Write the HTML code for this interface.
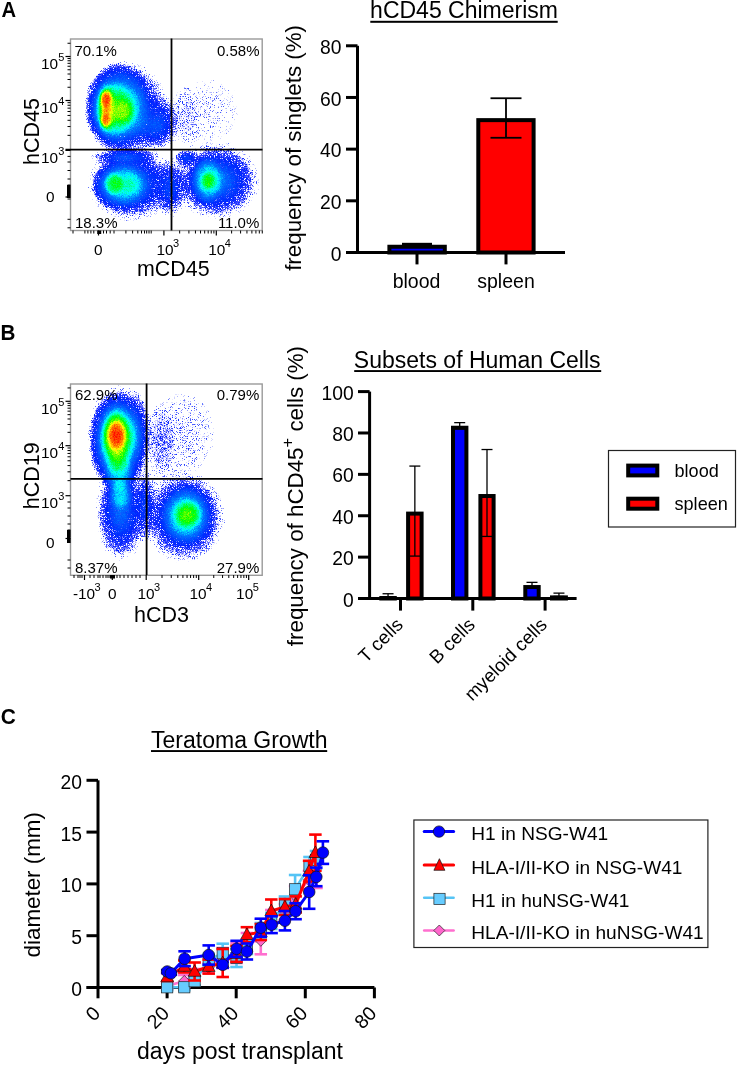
<!DOCTYPE html><html><head><meta charset="utf-8"><style>html,body{margin:0;padding:0;background:#fff;}svg{display:block;font-family:"Liberation Sans",sans-serif;will-change:transform;}</style></head><body><svg width="738" height="1065" viewBox="0 0 738 1065" font-family="Liberation Sans, sans-serif" fill="#000"><defs>
<radialGradient id="gw"><stop offset="0" stop-color="#fff" stop-opacity="1"/><stop offset="0.2" stop-color="#fff" stop-opacity="0.835"/><stop offset="0.4" stop-color="#fff" stop-opacity="0.487"/><stop offset="0.6" stop-color="#fff" stop-opacity="0.198"/><stop offset="0.8" stop-color="#fff" stop-opacity="0.056"/><stop offset="1" stop-color="#fff" stop-opacity="0"/></radialGradient>
<radialGradient id="gf"><stop offset="0" stop-color="#fff" stop-opacity="1"/><stop offset="0.3" stop-color="#fff" stop-opacity="0.96"/><stop offset="0.5" stop-color="#fff" stop-opacity="0.8"/><stop offset="0.65" stop-color="#fff" stop-opacity="0.55"/><stop offset="0.8" stop-color="#fff" stop-opacity="0.25"/><stop offset="0.9" stop-color="#fff" stop-opacity="0.08"/><stop offset="1" stop-color="#fff" stop-opacity="0"/></radialGradient>
<filter id="dens" x="0" y="0" width="1" height="1" color-interpolation-filters="sRGB">
<feGaussianBlur in="SourceGraphic" stdDeviation="1.2" result="sg"/>
<feTurbulence type="fractalNoise" baseFrequency="2.5" numOctaves="1" seed="7" result="n"/>
<feColorMatrix in="n" type="matrix" values="1 0 0 0 0 1 0 0 0 0 1 0 0 0 0 0 0 0 0 1" result="ng"/>
<feComposite in="sg" in2="ng" operator="arithmetic" k1="0" k2="1" k3="0.25" k4="-0.125" result="c1"/>
<feComponentTransfer in="c1" result="col"><feFuncR type="table" tableValues="0 0 0 0 0 0 0 0 0 0 0 0 0 0 0 0 0 0 0 0 0 0 0 0 0 0 0 0 0 0 0 0 0 0 0 0 0 0 0 0 0 0 0 0 0 0 0 0 0 0 0 0 0 0 0 0 0 0 0 0 0 0.0625 0.125 0.188 0.25 0.313 0.375 0.438 0.5 0.562 0.625 0.687 0.75 0.812 0.875 0.938 1 1 1 1 1 1 1 1 1 1 1 1 1 1 1 1 1 1 1 1 1 1 1 1 1"/><feFuncG type="table" tableValues="0 0.0161 0.0321 0.0482 0.0643 0.0804 0.0964 0.113 0.129 0.145 0.161 0.177 0.193 0.209 0.225 0.241 0.257 0.273 0.289 0.305 0.321 0.337 0.354 0.37 0.386 0.402 0.418 0.434 0.45 0.489 0.529 0.568 0.607 0.646 0.686 0.725 0.764 0.804 0.843 0.882 0.921 0.961 1 1 1 1 1 1 1 1 1 1 1 1 1 1 1 1 1 1 1 1 1 1 1 1 1 1 1 1 1 1 1 1 1 1 1 0.954 0.908 0.862 0.817 0.771 0.725 0.679 0.633 0.588 0.542 0.496 0.45 0.412 0.375 0.337 0.3 0.262 0.225 0.188 0.15 0.113 0.075 0.0375 0"/><feFuncB type="table" tableValues="1 1 1 1 1 1 1 1 1 1 1 1 1 1 1 1 1 1 1 1 1 1 1 1 1 1 1 1 1 1 1 1 1 1 1 1 1 1 1 1 1 1 1 0.944 0.889 0.833 0.778 0.722 0.667 0.611 0.556 0.5 0.444 0.389 0.333 0.278 0.222 0.167 0.111 0.0556 0 0 0 0 0 0 0 0 0 0 0 0 0 0 0 0 0 0 0 0 0 0 0 0 0 0 0 0 0 0 0 0 0 0 0 0 0 0 0 0 0"/></feComponentTransfer>
<feComponentTransfer in="ng" result="nf"><feFuncR type="table" tableValues="0.0111 0.0129 0.0150 0.0174 0.0202 0.0235 0.0273 0.0317 0.0369 0.0429 0.0498 0.0578 0.0672 0.0781 0.0907 0.1054 0.1225 0.1423 0.1653 0.1920 0.2231 0.2592 0.3012 0.3499 0.4066 0.4724 0.5488 0.6376 0.7408 0.8607 1.0000 1.0000 1.0000 1.0000 1.0000 1.0000 1.0000 1.0000 1.0000 1.0000 1.0000"/></feComponentTransfer>
<feComposite in="sg" in2="nf" operator="arithmetic" k1="11" k2="0" k3="0" k4="0" result="v"/>
<feColorMatrix in="v" type="matrix" values="0 0 0 0 0 0 0 0 0 0 0 0 0 0 0 1 0 0 0 0" result="va"/>
<feComponentTransfer in="va" result="mask"><feFuncA type="table" tableValues="0 0 0.6 0.85 0.95 1 1 1 1 1 1 1 1 1 1 1 1 1 1 1 1 1 1 1 1"/></feComponentTransfer>
<feComposite in="col" in2="mask" operator="in"/>
</filter>
</defs>
<g filter="url(#dens)">
<rect x="70.5" y="38.5" width="192.0" height="192.0" fill="#000"/>
<ellipse cx="126" cy="108" rx="44" ry="50" fill="url(#gw)" fill-opacity="0.3"/>
<ellipse cx="150" cy="128" rx="30" ry="25" fill="url(#gw)" fill-opacity="0.12"/>
<ellipse cx="160" cy="122" rx="22" ry="32" fill="url(#gw)" fill-opacity="0.12"/>
<ellipse cx="118.5" cy="107" rx="34.7" ry="46" fill="url(#gf)" fill-opacity="0.27"/>
<ellipse cx="113" cy="110" rx="24" ry="34" fill="url(#gf)" fill-opacity="0.31"/>
<ellipse cx="124" cy="112" rx="14" ry="16" fill="url(#gf)" fill-opacity="0.2"/>
<ellipse cx="106.5" cy="109" rx="11" ry="29" fill="url(#gf)" fill-opacity="0.42"/>
<ellipse cx="106" cy="99" rx="7.5" ry="11" fill="url(#gf)" fill-opacity="0.8"/>
<ellipse cx="105.5" cy="120" rx="6.5" ry="9" fill="url(#gf)" fill-opacity="0.72"/>
<ellipse cx="106" cy="110" rx="5.5" ry="9" fill="url(#gf)" fill-opacity="0.45"/>
<ellipse cx="131" cy="184" rx="46" ry="40" fill="url(#gw)" fill-opacity="0.3"/>
<ellipse cx="125" cy="157" rx="40" ry="10" fill="url(#gw)" fill-opacity="0.18"/>
<ellipse cx="121" cy="185" rx="30" ry="26" fill="url(#gf)" fill-opacity="0.27"/>
<ellipse cx="113.5" cy="183.6" rx="12" ry="14" fill="url(#gf)" fill-opacity="0.33"/>
<ellipse cx="217" cy="181" rx="46" ry="41" fill="url(#gw)" fill-opacity="0.3"/>
<ellipse cx="186" cy="158" rx="14" ry="10" fill="url(#gw)" fill-opacity="0.15"/>
<ellipse cx="207" cy="180" rx="18" ry="27" fill="url(#gf)" fill-opacity="0.29"/>
<ellipse cx="207.8" cy="181" rx="8" ry="11" fill="url(#gf)" fill-opacity="0.28"/>
<ellipse cx="170" cy="188" rx="20" ry="35" fill="url(#gw)" fill-opacity="0.15"/>
<ellipse cx="207" cy="111" rx="47" ry="48" fill="url(#gf)" fill-opacity="0.012"/>
<ellipse cx="185" cy="118" rx="20" ry="38" fill="url(#gf)" fill-opacity="0.012"/>
</g>
<rect x="70.50" y="39.00" width="191.70" height="191.50" fill="none" stroke="#9a9a9a" stroke-width="1.4" />
<line x1="171.50" y1="38.50" x2="171.50" y2="230.50" stroke="#000" stroke-width="1.8" stroke-linecap="butt" />
<line x1="65.50" y1="149.70" x2="262.50" y2="149.70" stroke="#000" stroke-width="1.8" stroke-linecap="butt" />
<line x1="65.50" y1="56.50" x2="70.50" y2="56.50" stroke="#000" stroke-width="1.2" stroke-linecap="butt" />
<line x1="65.50" y1="100.50" x2="70.50" y2="100.50" stroke="#000" stroke-width="1.2" stroke-linecap="butt" />
<line x1="65.50" y1="150.40" x2="70.50" y2="150.40" stroke="#000" stroke-width="1.2" stroke-linecap="butt" />
<line x1="65.50" y1="197.00" x2="70.50" y2="197.00" stroke="#000" stroke-width="1.2" stroke-linecap="butt" />
<line x1="67.50" y1="43.25" x2="70.50" y2="43.25" stroke="#000" stroke-width="1" stroke-linecap="butt" />
<line x1="67.50" y1="87.25" x2="70.50" y2="87.25" stroke="#000" stroke-width="1" stroke-linecap="butt" />
<line x1="67.50" y1="79.51" x2="70.50" y2="79.51" stroke="#000" stroke-width="1" stroke-linecap="butt" />
<line x1="67.50" y1="74.01" x2="70.50" y2="74.01" stroke="#000" stroke-width="1" stroke-linecap="butt" />
<line x1="67.50" y1="69.75" x2="70.50" y2="69.75" stroke="#000" stroke-width="1" stroke-linecap="butt" />
<line x1="67.50" y1="66.26" x2="70.50" y2="66.26" stroke="#000" stroke-width="1" stroke-linecap="butt" />
<line x1="67.50" y1="63.32" x2="70.50" y2="63.32" stroke="#000" stroke-width="1" stroke-linecap="butt" />
<line x1="67.50" y1="60.76" x2="70.50" y2="60.76" stroke="#000" stroke-width="1" stroke-linecap="butt" />
<line x1="67.50" y1="58.51" x2="70.50" y2="58.51" stroke="#000" stroke-width="1" stroke-linecap="butt" />
<line x1="67.50" y1="135.35" x2="70.50" y2="135.35" stroke="#000" stroke-width="1" stroke-linecap="butt" />
<line x1="67.50" y1="126.54" x2="70.50" y2="126.54" stroke="#000" stroke-width="1" stroke-linecap="butt" />
<line x1="67.50" y1="120.30" x2="70.50" y2="120.30" stroke="#000" stroke-width="1" stroke-linecap="butt" />
<line x1="67.50" y1="115.45" x2="70.50" y2="115.45" stroke="#000" stroke-width="1" stroke-linecap="butt" />
<line x1="67.50" y1="111.49" x2="70.50" y2="111.49" stroke="#000" stroke-width="1" stroke-linecap="butt" />
<line x1="67.50" y1="108.15" x2="70.50" y2="108.15" stroke="#000" stroke-width="1" stroke-linecap="butt" />
<line x1="67.50" y1="105.25" x2="70.50" y2="105.25" stroke="#000" stroke-width="1" stroke-linecap="butt" />
<line x1="67.50" y1="102.69" x2="70.50" y2="102.69" stroke="#000" stroke-width="1" stroke-linecap="butt" />
<line x1="67.50" y1="156.40" x2="70.50" y2="156.40" stroke="#000" stroke-width="1" stroke-linecap="butt" />
<line x1="67.50" y1="162.00" x2="70.50" y2="162.00" stroke="#000" stroke-width="1" stroke-linecap="butt" />
<line x1="67.50" y1="170.50" x2="70.50" y2="170.50" stroke="#000" stroke-width="1" stroke-linecap="butt" />
<line x1="67.50" y1="179.00" x2="70.50" y2="179.00" stroke="#000" stroke-width="1" stroke-linecap="butt" />
<line x1="67.50" y1="185.00" x2="70.50" y2="185.00" stroke="#000" stroke-width="1" stroke-linecap="butt" />
<line x1="67.50" y1="187.00" x2="70.50" y2="187.00" stroke="#000" stroke-width="1" stroke-linecap="butt" />
<line x1="67.50" y1="189.00" x2="70.50" y2="189.00" stroke="#000" stroke-width="1" stroke-linecap="butt" />
<line x1="67.50" y1="191.00" x2="70.50" y2="191.00" stroke="#000" stroke-width="1" stroke-linecap="butt" />
<line x1="67.50" y1="193.00" x2="70.50" y2="193.00" stroke="#000" stroke-width="1" stroke-linecap="butt" />
<line x1="67.50" y1="195.00" x2="70.50" y2="195.00" stroke="#000" stroke-width="1" stroke-linecap="butt" />
<line x1="67.50" y1="199.00" x2="70.50" y2="199.00" stroke="#000" stroke-width="1" stroke-linecap="butt" />
<line x1="67.50" y1="219.30" x2="70.50" y2="219.30" stroke="#000" stroke-width="1" stroke-linecap="butt" />
<line x1="67.50" y1="227.80" x2="70.50" y2="227.80" stroke="#000" stroke-width="1" stroke-linecap="butt" />
<rect x="67.00" y="185.00" width="3.50" height="13.00" fill="#000" stroke="none" stroke-width="0" />
<line x1="98.50" y1="230.50" x2="98.50" y2="235.50" stroke="#000" stroke-width="1.2" stroke-linecap="butt" />
<line x1="163.90" y1="230.50" x2="163.90" y2="235.50" stroke="#000" stroke-width="1.2" stroke-linecap="butt" />
<line x1="216.30" y1="230.50" x2="216.30" y2="235.50" stroke="#000" stroke-width="1.2" stroke-linecap="butt" />
<line x1="73.00" y1="230.50" x2="73.00" y2="233.50" stroke="#000" stroke-width="1" stroke-linecap="butt" />
<line x1="84.90" y1="230.50" x2="84.90" y2="233.50" stroke="#000" stroke-width="1" stroke-linecap="butt" />
<line x1="87.90" y1="230.50" x2="87.90" y2="233.50" stroke="#000" stroke-width="1" stroke-linecap="butt" />
<line x1="90.90" y1="230.50" x2="90.90" y2="233.50" stroke="#000" stroke-width="1" stroke-linecap="butt" />
<line x1="93.80" y1="230.50" x2="93.80" y2="233.50" stroke="#000" stroke-width="1" stroke-linecap="butt" />
<line x1="103.50" y1="230.50" x2="103.50" y2="233.50" stroke="#000" stroke-width="1" stroke-linecap="butt" />
<line x1="106.50" y1="230.50" x2="106.50" y2="233.50" stroke="#000" stroke-width="1" stroke-linecap="butt" />
<line x1="110.20" y1="230.50" x2="110.20" y2="233.50" stroke="#000" stroke-width="1" stroke-linecap="butt" />
<line x1="114.00" y1="230.50" x2="114.00" y2="233.50" stroke="#000" stroke-width="1" stroke-linecap="butt" />
<line x1="125.90" y1="230.50" x2="125.90" y2="233.50" stroke="#000" stroke-width="1" stroke-linecap="butt" />
<line x1="132.60" y1="230.50" x2="132.60" y2="233.50" stroke="#000" stroke-width="1" stroke-linecap="butt" />
<line x1="137.80" y1="230.50" x2="137.80" y2="233.50" stroke="#000" stroke-width="1" stroke-linecap="butt" />
<line x1="141.50" y1="230.50" x2="141.50" y2="233.50" stroke="#000" stroke-width="1" stroke-linecap="butt" />
<line x1="144.50" y1="230.50" x2="144.50" y2="233.50" stroke="#000" stroke-width="1" stroke-linecap="butt" />
<line x1="146.70" y1="230.50" x2="146.70" y2="233.50" stroke="#000" stroke-width="1" stroke-linecap="butt" />
<line x1="149.00" y1="230.50" x2="149.00" y2="233.50" stroke="#000" stroke-width="1" stroke-linecap="butt" />
<line x1="151.20" y1="230.50" x2="151.20" y2="233.50" stroke="#000" stroke-width="1" stroke-linecap="butt" />
<line x1="231.62" y1="230.50" x2="231.62" y2="233.50" stroke="#000" stroke-width="1" stroke-linecap="butt" />
<line x1="240.59" y1="230.50" x2="240.59" y2="233.50" stroke="#000" stroke-width="1" stroke-linecap="butt" />
<line x1="246.94" y1="230.50" x2="246.94" y2="233.50" stroke="#000" stroke-width="1" stroke-linecap="butt" />
<line x1="251.88" y1="230.50" x2="251.88" y2="233.50" stroke="#000" stroke-width="1" stroke-linecap="butt" />
<line x1="255.91" y1="230.50" x2="255.91" y2="233.50" stroke="#000" stroke-width="1" stroke-linecap="butt" />
<line x1="259.32" y1="230.50" x2="259.32" y2="233.50" stroke="#000" stroke-width="1" stroke-linecap="butt" />
<line x1="262.27" y1="230.50" x2="262.27" y2="233.50" stroke="#000" stroke-width="1" stroke-linecap="butt" />
<line x1="179.67" y1="230.50" x2="179.67" y2="233.50" stroke="#000" stroke-width="1" stroke-linecap="butt" />
<line x1="188.90" y1="230.50" x2="188.90" y2="233.50" stroke="#000" stroke-width="1" stroke-linecap="butt" />
<line x1="195.45" y1="230.50" x2="195.45" y2="233.50" stroke="#000" stroke-width="1" stroke-linecap="butt" />
<line x1="200.53" y1="230.50" x2="200.53" y2="233.50" stroke="#000" stroke-width="1" stroke-linecap="butt" />
<line x1="204.68" y1="230.50" x2="204.68" y2="233.50" stroke="#000" stroke-width="1" stroke-linecap="butt" />
<line x1="208.18" y1="230.50" x2="208.18" y2="233.50" stroke="#000" stroke-width="1" stroke-linecap="butt" />
<line x1="211.22" y1="230.50" x2="211.22" y2="233.50" stroke="#000" stroke-width="1" stroke-linecap="butt" />
<line x1="213.90" y1="230.50" x2="213.90" y2="233.50" stroke="#000" stroke-width="1" stroke-linecap="butt" />
<rect x="97.20" y="230.50" width="4.00" height="3.50" fill="#000" stroke="none" stroke-width="0" />
<text x="64.30" y="69.10" font-size="15.4" text-anchor="end">10<tspan font-size="11.00" dx="0" dy="-8.00">5</tspan></text>
<text x="64.30" y="112.90" font-size="15.4" text-anchor="end">10<tspan font-size="11.00" dx="0" dy="-8.00">4</tspan></text>
<text x="64.30" y="162.80" font-size="15.4" text-anchor="end">10<tspan font-size="11.00" dx="0" dy="-8.00">3</tspan></text>
<text x="54.60" y="202.40" font-size="15.4" text-anchor="end" >0</text>
<text x="98.20" y="254.60" font-size="15.4" text-anchor="middle" >0</text>
<text x="156.5" y="254.6" font-size="15.4">10<tspan font-size="11" dx="-0.6" dy="-8">3</tspan></text>
<text x="208.2" y="254.6" font-size="15.4">10<tspan font-size="11" dx="-0.6" dy="-8">4</tspan></text>
<text x="173.30" y="276.00" font-size="21.4" text-anchor="middle" >mCD45</text>
<text x="38.60" y="131.50" font-size="21.5" text-anchor="middle" transform="rotate(-90 38.6 131.5)">hCD45</text>
<text x="74.40" y="55.60" font-size="15" text-anchor="start" >70.1%</text>
<text x="259.50" y="55.60" font-size="15" text-anchor="end" >0.58%</text>
<text x="75.00" y="227.70" font-size="15" text-anchor="start" >18.3%</text>
<text x="259.30" y="227.70" font-size="15" text-anchor="end" >11.0%</text>
<g filter="url(#dens)">
<rect x="70.5" y="383.5" width="192.0" height="191.5" fill="#000"/>
<ellipse cx="119" cy="438" rx="34" ry="58" fill="url(#gw)" fill-opacity="0.3"/>
<ellipse cx="136" cy="432" rx="16" ry="48" fill="url(#gw)" fill-opacity="0.14"/>
<ellipse cx="121" cy="512" rx="28" ry="54" fill="url(#gw)" fill-opacity="0.25"/>
<ellipse cx="117.5" cy="441" rx="29" ry="50" fill="url(#gf)" fill-opacity="0.27"/>
<ellipse cx="120.5" cy="494.5" rx="14" ry="18" fill="url(#gf)" fill-opacity="0.27"/>
<ellipse cx="119" cy="472" rx="17" ry="24" fill="url(#gf)" fill-opacity="0.25"/>
<ellipse cx="116.5" cy="438.8" rx="21" ry="39" fill="url(#gf)" fill-opacity="0.31"/>
<ellipse cx="115.8" cy="436" rx="15" ry="28" fill="url(#gf)" fill-opacity="0.42"/>
<ellipse cx="116.5" cy="435.4" rx="10.5" ry="17" fill="url(#gf)" fill-opacity="0.77"/>
<ellipse cx="181.5" cy="434" rx="46" ry="56" fill="url(#gf)" fill-opacity="0.014"/>
<ellipse cx="160" cy="445" rx="18" ry="48" fill="url(#gf)" fill-opacity="0.016"/>
<ellipse cx="184.2" cy="517" rx="44" ry="49" fill="url(#gw)" fill-opacity="0.3"/>
<ellipse cx="186.8" cy="515" rx="28" ry="33" fill="url(#gf)" fill-opacity="0.27"/>
<ellipse cx="188.2" cy="514.5" rx="16" ry="16" fill="url(#gf)" fill-opacity="0.33"/>
<ellipse cx="145" cy="505" rx="14" ry="45" fill="url(#gw)" fill-opacity="0.12"/>
</g>
<rect x="70.50" y="384.00" width="191.70" height="191.30" fill="none" stroke="#9a9a9a" stroke-width="1.4" />
<line x1="146.60" y1="383.50" x2="146.60" y2="575.00" stroke="#000" stroke-width="1.8" stroke-linecap="butt" />
<line x1="70.50" y1="478.80" x2="262.50" y2="478.80" stroke="#000" stroke-width="1.8" stroke-linecap="butt" />
<line x1="65.50" y1="401.30" x2="70.50" y2="401.30" stroke="#000" stroke-width="1.2" stroke-linecap="butt" />
<line x1="65.50" y1="445.70" x2="70.50" y2="445.70" stroke="#000" stroke-width="1.2" stroke-linecap="butt" />
<line x1="65.50" y1="495.70" x2="70.50" y2="495.70" stroke="#000" stroke-width="1.2" stroke-linecap="butt" />
<line x1="65.50" y1="538.50" x2="70.50" y2="538.50" stroke="#000" stroke-width="1.2" stroke-linecap="butt" />
<line x1="67.50" y1="387.93" x2="70.50" y2="387.93" stroke="#000" stroke-width="1" stroke-linecap="butt" />
<line x1="67.50" y1="432.33" x2="70.50" y2="432.33" stroke="#000" stroke-width="1" stroke-linecap="butt" />
<line x1="67.50" y1="424.52" x2="70.50" y2="424.52" stroke="#000" stroke-width="1" stroke-linecap="butt" />
<line x1="67.50" y1="418.97" x2="70.50" y2="418.97" stroke="#000" stroke-width="1" stroke-linecap="butt" />
<line x1="67.50" y1="414.67" x2="70.50" y2="414.67" stroke="#000" stroke-width="1" stroke-linecap="butt" />
<line x1="67.50" y1="411.15" x2="70.50" y2="411.15" stroke="#000" stroke-width="1" stroke-linecap="butt" />
<line x1="67.50" y1="408.18" x2="70.50" y2="408.18" stroke="#000" stroke-width="1" stroke-linecap="butt" />
<line x1="67.50" y1="405.60" x2="70.50" y2="405.60" stroke="#000" stroke-width="1" stroke-linecap="butt" />
<line x1="67.50" y1="403.33" x2="70.50" y2="403.33" stroke="#000" stroke-width="1" stroke-linecap="butt" />
<line x1="67.50" y1="480.65" x2="70.50" y2="480.65" stroke="#000" stroke-width="1" stroke-linecap="butt" />
<line x1="67.50" y1="471.84" x2="70.50" y2="471.84" stroke="#000" stroke-width="1" stroke-linecap="butt" />
<line x1="67.50" y1="465.60" x2="70.50" y2="465.60" stroke="#000" stroke-width="1" stroke-linecap="butt" />
<line x1="67.50" y1="460.75" x2="70.50" y2="460.75" stroke="#000" stroke-width="1" stroke-linecap="butt" />
<line x1="67.50" y1="456.79" x2="70.50" y2="456.79" stroke="#000" stroke-width="1" stroke-linecap="butt" />
<line x1="67.50" y1="453.45" x2="70.50" y2="453.45" stroke="#000" stroke-width="1" stroke-linecap="butt" />
<line x1="67.50" y1="450.55" x2="70.50" y2="450.55" stroke="#000" stroke-width="1" stroke-linecap="butt" />
<line x1="67.50" y1="447.99" x2="70.50" y2="447.99" stroke="#000" stroke-width="1" stroke-linecap="butt" />
<line x1="67.50" y1="502.00" x2="70.50" y2="502.00" stroke="#000" stroke-width="1" stroke-linecap="butt" />
<line x1="67.50" y1="508.00" x2="70.50" y2="508.00" stroke="#000" stroke-width="1" stroke-linecap="butt" />
<line x1="67.50" y1="516.00" x2="70.50" y2="516.00" stroke="#000" stroke-width="1" stroke-linecap="butt" />
<line x1="67.50" y1="524.00" x2="70.50" y2="524.00" stroke="#000" stroke-width="1" stroke-linecap="butt" />
<line x1="67.50" y1="530.00" x2="70.50" y2="530.00" stroke="#000" stroke-width="1" stroke-linecap="butt" />
<line x1="67.50" y1="532.00" x2="70.50" y2="532.00" stroke="#000" stroke-width="1" stroke-linecap="butt" />
<line x1="67.50" y1="534.00" x2="70.50" y2="534.00" stroke="#000" stroke-width="1" stroke-linecap="butt" />
<line x1="67.50" y1="536.00" x2="70.50" y2="536.00" stroke="#000" stroke-width="1" stroke-linecap="butt" />
<line x1="67.50" y1="540.00" x2="70.50" y2="540.00" stroke="#000" stroke-width="1" stroke-linecap="butt" />
<line x1="67.50" y1="542.00" x2="70.50" y2="542.00" stroke="#000" stroke-width="1" stroke-linecap="butt" />
<line x1="67.50" y1="560.00" x2="70.50" y2="560.00" stroke="#000" stroke-width="1" stroke-linecap="butt" />
<line x1="67.50" y1="568.00" x2="70.50" y2="568.00" stroke="#000" stroke-width="1" stroke-linecap="butt" />
<rect x="67.00" y="530.00" width="3.50" height="13.00" fill="#000" stroke="none" stroke-width="0" />
<line x1="84.50" y1="575.00" x2="84.50" y2="580.00" stroke="#000" stroke-width="1.2" stroke-linecap="butt" />
<line x1="112.30" y1="575.00" x2="112.30" y2="580.00" stroke="#000" stroke-width="1.2" stroke-linecap="butt" />
<line x1="146.20" y1="575.00" x2="146.20" y2="580.00" stroke="#000" stroke-width="1.2" stroke-linecap="butt" />
<line x1="198.70" y1="575.00" x2="198.70" y2="580.00" stroke="#000" stroke-width="1.2" stroke-linecap="butt" />
<line x1="248.70" y1="575.00" x2="248.70" y2="580.00" stroke="#000" stroke-width="1.2" stroke-linecap="butt" />
<line x1="74.00" y1="575.00" x2="74.00" y2="578.00" stroke="#000" stroke-width="1" stroke-linecap="butt" />
<line x1="78.00" y1="575.00" x2="78.00" y2="578.00" stroke="#000" stroke-width="1" stroke-linecap="butt" />
<line x1="80.00" y1="575.00" x2="80.00" y2="578.00" stroke="#000" stroke-width="1" stroke-linecap="butt" />
<line x1="82.00" y1="575.00" x2="82.00" y2="578.00" stroke="#000" stroke-width="1" stroke-linecap="butt" />
<line x1="90.00" y1="575.00" x2="90.00" y2="578.00" stroke="#000" stroke-width="1" stroke-linecap="butt" />
<line x1="94.00" y1="575.00" x2="94.00" y2="578.00" stroke="#000" stroke-width="1" stroke-linecap="butt" />
<line x1="98.00" y1="575.00" x2="98.00" y2="578.00" stroke="#000" stroke-width="1" stroke-linecap="butt" />
<line x1="100.00" y1="575.00" x2="100.00" y2="578.00" stroke="#000" stroke-width="1" stroke-linecap="butt" />
<line x1="103.00" y1="575.00" x2="103.00" y2="578.00" stroke="#000" stroke-width="1" stroke-linecap="butt" />
<line x1="106.00" y1="575.00" x2="106.00" y2="578.00" stroke="#000" stroke-width="1" stroke-linecap="butt" />
<line x1="108.00" y1="575.00" x2="108.00" y2="578.00" stroke="#000" stroke-width="1" stroke-linecap="butt" />
<line x1="110.00" y1="575.00" x2="110.00" y2="578.00" stroke="#000" stroke-width="1" stroke-linecap="butt" />
<line x1="114.00" y1="575.00" x2="114.00" y2="578.00" stroke="#000" stroke-width="1" stroke-linecap="butt" />
<line x1="117.00" y1="575.00" x2="117.00" y2="578.00" stroke="#000" stroke-width="1" stroke-linecap="butt" />
<line x1="120.00" y1="575.00" x2="120.00" y2="578.00" stroke="#000" stroke-width="1" stroke-linecap="butt" />
<line x1="124.00" y1="575.00" x2="124.00" y2="578.00" stroke="#000" stroke-width="1" stroke-linecap="butt" />
<line x1="128.00" y1="575.00" x2="128.00" y2="578.00" stroke="#000" stroke-width="1" stroke-linecap="butt" />
<line x1="132.00" y1="575.00" x2="132.00" y2="578.00" stroke="#000" stroke-width="1" stroke-linecap="butt" />
<line x1="136.00" y1="575.00" x2="136.00" y2="578.00" stroke="#000" stroke-width="1" stroke-linecap="butt" />
<line x1="140.00" y1="575.00" x2="140.00" y2="578.00" stroke="#000" stroke-width="1" stroke-linecap="butt" />
<line x1="162.00" y1="575.00" x2="162.00" y2="578.00" stroke="#000" stroke-width="1" stroke-linecap="butt" />
<line x1="171.25" y1="575.00" x2="171.25" y2="578.00" stroke="#000" stroke-width="1" stroke-linecap="butt" />
<line x1="177.81" y1="575.00" x2="177.81" y2="578.00" stroke="#000" stroke-width="1" stroke-linecap="butt" />
<line x1="182.90" y1="575.00" x2="182.90" y2="578.00" stroke="#000" stroke-width="1" stroke-linecap="butt" />
<line x1="187.05" y1="575.00" x2="187.05" y2="578.00" stroke="#000" stroke-width="1" stroke-linecap="butt" />
<line x1="190.57" y1="575.00" x2="190.57" y2="578.00" stroke="#000" stroke-width="1" stroke-linecap="butt" />
<line x1="193.61" y1="575.00" x2="193.61" y2="578.00" stroke="#000" stroke-width="1" stroke-linecap="butt" />
<line x1="196.30" y1="575.00" x2="196.30" y2="578.00" stroke="#000" stroke-width="1" stroke-linecap="butt" />
<line x1="213.75" y1="575.00" x2="213.75" y2="578.00" stroke="#000" stroke-width="1" stroke-linecap="butt" />
<line x1="222.56" y1="575.00" x2="222.56" y2="578.00" stroke="#000" stroke-width="1" stroke-linecap="butt" />
<line x1="228.80" y1="575.00" x2="228.80" y2="578.00" stroke="#000" stroke-width="1" stroke-linecap="butt" />
<line x1="233.65" y1="575.00" x2="233.65" y2="578.00" stroke="#000" stroke-width="1" stroke-linecap="butt" />
<line x1="237.61" y1="575.00" x2="237.61" y2="578.00" stroke="#000" stroke-width="1" stroke-linecap="butt" />
<line x1="240.95" y1="575.00" x2="240.95" y2="578.00" stroke="#000" stroke-width="1" stroke-linecap="butt" />
<line x1="243.85" y1="575.00" x2="243.85" y2="578.00" stroke="#000" stroke-width="1" stroke-linecap="butt" />
<line x1="246.41" y1="575.00" x2="246.41" y2="578.00" stroke="#000" stroke-width="1" stroke-linecap="butt" />
<rect x="110.00" y="575.00" width="5.00" height="3.50" fill="#000" stroke="none" stroke-width="0" />
<text x="64.30" y="413.70" font-size="15.4" text-anchor="end">10<tspan font-size="11.00" dx="0" dy="-8.00">5</tspan></text>
<text x="64.30" y="458.10" font-size="15.4" text-anchor="end">10<tspan font-size="11.00" dx="0" dy="-8.00">4</tspan></text>
<text x="64.30" y="508.10" font-size="15.4" text-anchor="end">10<tspan font-size="11.00" dx="0" dy="-8.00">3</tspan></text>
<text x="54.60" y="548.20" font-size="15.4" text-anchor="end" >0</text>
<text x="72.9" y="598.6" font-size="15.4">-10<tspan font-size="11" dx="-0.6" dy="-8">3</tspan></text>
<text x="112.30" y="598.60" font-size="15.4" text-anchor="middle" >0</text>
<text x="137.5" y="598.6" font-size="15.4">10<tspan font-size="11" dx="-0.6" dy="-8">3</tspan></text>
<text x="189.5" y="598.6" font-size="15.4">10<tspan font-size="11" dx="-0.6" dy="-8">4</tspan></text>
<text x="236.1" y="598.6" font-size="15.4">10<tspan font-size="11" dx="-0.6" dy="-8">5</tspan></text>
<text x="161.60" y="621.50" font-size="21.5" text-anchor="middle" >hCD3</text>
<text x="38.60" y="475.80" font-size="21.5" text-anchor="middle" transform="rotate(-90 38.6 475.8)">hCD19</text>
<text x="75.00" y="400.00" font-size="15" text-anchor="start" >62.9%</text>
<text x="259.30" y="400.00" font-size="15" text-anchor="end" >0.79%</text>
<text x="75.00" y="572.50" font-size="15" text-anchor="start" >8.37%</text>
<text x="259.30" y="572.50" font-size="15" text-anchor="end" >27.9%</text>
<text x="1.60" y="16.60" font-size="21.5" text-anchor="start" font-weight="bold" textLength="14.6" lengthAdjust="spacingAndGlyphs">A</text>
<text x="0.60" y="339.70" font-size="21.5" text-anchor="start" font-weight="bold" textLength="14.9" lengthAdjust="spacingAndGlyphs">B</text>
<text x="0.70" y="723.80" font-size="21.5" text-anchor="start" font-weight="bold" textLength="15.1" lengthAdjust="spacingAndGlyphs">C</text>
<text x="370.10" y="18.20" font-size="23" text-anchor="start" >hCD45 Chimerism</text>
<rect x="370.30" y="20.80" width="187.40" height="2.00" fill="#000" stroke="none" stroke-width="0" />
<rect x="389.40" y="246.75" width="55.40" height="5.75" fill="#0000ff" stroke="#000" stroke-width="4" />
<line x1="417.00" y1="243.71" x2="417.00" y2="244.75" stroke="#000" stroke-width="1.8" stroke-linecap="butt" />
<line x1="402.00" y1="243.71" x2="432.00" y2="243.71" stroke="#000" stroke-width="1.8" stroke-linecap="butt" />
<line x1="402.00" y1="244.75" x2="432.00" y2="244.75" stroke="#000" stroke-width="1.8" stroke-linecap="butt" />
<rect x="478.30" y="120.13" width="55.30" height="132.37" fill="#ff0000" stroke="#000" stroke-width="4" />
<line x1="506.00" y1="98.24" x2="506.00" y2="137.77" stroke="#000" stroke-width="1.8" stroke-linecap="butt" />
<line x1="490.50" y1="98.24" x2="521.50" y2="98.24" stroke="#000" stroke-width="1.8" stroke-linecap="butt" />
<line x1="490.50" y1="137.77" x2="521.50" y2="137.77" stroke="#000" stroke-width="1.8" stroke-linecap="butt" />
<line x1="357.50" y1="45.78" x2="357.50" y2="254.00" stroke="#000" stroke-width="3" stroke-linecap="butt" />
<line x1="346.00" y1="252.50" x2="565.00" y2="252.50" stroke="#000" stroke-width="3" stroke-linecap="butt" />
<line x1="346.00" y1="252.50" x2="357.50" y2="252.50" stroke="#000" stroke-width="3" stroke-linecap="butt" />
<text x="341.50" y="260.60" font-size="19.3" text-anchor="end" >0</text>
<line x1="346.00" y1="200.82" x2="357.50" y2="200.82" stroke="#000" stroke-width="3" stroke-linecap="butt" />
<text x="341.50" y="208.92" font-size="19.3" text-anchor="end" >20</text>
<line x1="346.00" y1="149.14" x2="357.50" y2="149.14" stroke="#000" stroke-width="3" stroke-linecap="butt" />
<text x="341.50" y="157.24" font-size="19.3" text-anchor="end" >40</text>
<line x1="346.00" y1="97.46" x2="357.50" y2="97.46" stroke="#000" stroke-width="3" stroke-linecap="butt" />
<text x="341.50" y="105.56" font-size="19.3" text-anchor="end" >60</text>
<line x1="346.00" y1="45.78" x2="357.50" y2="45.78" stroke="#000" stroke-width="3" stroke-linecap="butt" />
<text x="341.50" y="53.88" font-size="19.3" text-anchor="end" >80</text>
<line x1="417.00" y1="252.50" x2="417.00" y2="264.40" stroke="#000" stroke-width="3" stroke-linecap="butt" />
<line x1="506.00" y1="252.50" x2="506.00" y2="264.40" stroke="#000" stroke-width="3" stroke-linecap="butt" />
<text x="416.50" y="288.00" font-size="19.5" text-anchor="middle" >blood</text>
<text x="506.00" y="288.00" font-size="19.5" text-anchor="middle" >spleen</text>
<text x="301.10" y="147.90" font-size="22.35" text-anchor="middle" transform="rotate(-90 301.1 147.9)">frequency of singlets (%)</text>
<text x="353.85" y="367.50" font-size="23" text-anchor="start" >Subsets of Human Cells</text>
<rect x="354.20" y="370.10" width="247.00" height="1.90" fill="#000" stroke="none" stroke-width="0" />
<rect x="381.30" y="598.02" width="13.50" height="0.48" fill="#0000ff" stroke="#000" stroke-width="4" />
<line x1="388.05" y1="593.74" x2="388.05" y2="596.84" stroke="#000" stroke-width="1.3" stroke-linecap="butt" />
<line x1="382.55" y1="593.74" x2="393.55" y2="593.74" stroke="#000" stroke-width="1.3" stroke-linecap="butt" />
<line x1="382.55" y1="596.84" x2="393.55" y2="596.84" stroke="#000" stroke-width="1.3" stroke-linecap="butt" />
<rect x="408.10" y="513.60" width="13.50" height="84.90" fill="#ff0000" stroke="#000" stroke-width="4" />
<line x1="414.85" y1="466.08" x2="414.85" y2="556.09" stroke="#000" stroke-width="1.3" stroke-linecap="butt" />
<line x1="409.35" y1="466.08" x2="420.35" y2="466.08" stroke="#000" stroke-width="1.3" stroke-linecap="butt" />
<line x1="409.35" y1="556.09" x2="420.35" y2="556.09" stroke="#000" stroke-width="1.3" stroke-linecap="butt" />
<rect x="453.00" y="427.74" width="13.40" height="170.76" fill="#0000ff" stroke="#000" stroke-width="4" />
<line x1="459.70" y1="422.63" x2="459.70" y2="428.84" stroke="#000" stroke-width="1.3" stroke-linecap="butt" />
<line x1="454.20" y1="422.63" x2="465.20" y2="422.63" stroke="#000" stroke-width="1.3" stroke-linecap="butt" />
<line x1="454.20" y1="428.84" x2="465.20" y2="428.84" stroke="#000" stroke-width="1.3" stroke-linecap="butt" />
<rect x="480.40" y="496.02" width="13.20" height="102.48" fill="#ff0000" stroke="#000" stroke-width="4" />
<line x1="487.00" y1="449.53" x2="487.00" y2="536.43" stroke="#000" stroke-width="1.3" stroke-linecap="butt" />
<line x1="481.50" y1="449.53" x2="492.50" y2="449.53" stroke="#000" stroke-width="1.3" stroke-linecap="butt" />
<line x1="481.50" y1="536.43" x2="492.50" y2="536.43" stroke="#000" stroke-width="1.3" stroke-linecap="butt" />
<rect x="525.30" y="587.05" width="13.40" height="11.45" fill="#0000ff" stroke="#000" stroke-width="4" />
<line x1="532.00" y1="582.36" x2="532.00" y2="588.15" stroke="#000" stroke-width="1.3" stroke-linecap="butt" />
<line x1="526.50" y1="582.36" x2="537.50" y2="582.36" stroke="#000" stroke-width="1.3" stroke-linecap="butt" />
<line x1="526.50" y1="588.15" x2="537.50" y2="588.15" stroke="#000" stroke-width="1.3" stroke-linecap="butt" />
<rect x="552.00" y="597.40" width="13.90" height="1.10" fill="#ff0000" stroke="#000" stroke-width="4" />
<line x1="558.95" y1="593.12" x2="558.95" y2="596.43" stroke="#000" stroke-width="1.3" stroke-linecap="butt" />
<line x1="553.45" y1="593.12" x2="564.45" y2="593.12" stroke="#000" stroke-width="1.3" stroke-linecap="butt" />
<line x1="553.45" y1="596.43" x2="564.45" y2="596.43" stroke="#000" stroke-width="1.3" stroke-linecap="butt" />
<line x1="369.60" y1="391.60" x2="369.60" y2="600.00" stroke="#000" stroke-width="3" stroke-linecap="butt" />
<line x1="358.00" y1="598.50" x2="576.60" y2="598.50" stroke="#000" stroke-width="3" stroke-linecap="butt" />
<line x1="358.00" y1="598.50" x2="369.60" y2="598.50" stroke="#000" stroke-width="3" stroke-linecap="butt" />
<text x="353.70" y="606.50" font-size="19.3" text-anchor="end" >0</text>
<line x1="358.00" y1="557.12" x2="369.60" y2="557.12" stroke="#000" stroke-width="3" stroke-linecap="butt" />
<text x="353.70" y="565.12" font-size="19.3" text-anchor="end" >20</text>
<line x1="358.00" y1="515.74" x2="369.60" y2="515.74" stroke="#000" stroke-width="3" stroke-linecap="butt" />
<text x="353.70" y="523.74" font-size="19.3" text-anchor="end" >40</text>
<line x1="358.00" y1="474.36" x2="369.60" y2="474.36" stroke="#000" stroke-width="3" stroke-linecap="butt" />
<text x="353.70" y="482.36" font-size="19.3" text-anchor="end" >60</text>
<line x1="358.00" y1="432.98" x2="369.60" y2="432.98" stroke="#000" stroke-width="3" stroke-linecap="butt" />
<text x="353.70" y="440.98" font-size="19.3" text-anchor="end" >80</text>
<line x1="358.00" y1="391.60" x2="369.60" y2="391.60" stroke="#000" stroke-width="3" stroke-linecap="butt" />
<text x="353.70" y="399.60" font-size="19.3" text-anchor="end" >100</text>
<line x1="400.50" y1="598.50" x2="400.50" y2="610.60" stroke="#000" stroke-width="3" stroke-linecap="butt" />
<line x1="472.80" y1="598.50" x2="472.80" y2="610.60" stroke="#000" stroke-width="3" stroke-linecap="butt" />
<line x1="545.10" y1="598.50" x2="545.10" y2="610.60" stroke="#000" stroke-width="3" stroke-linecap="butt" />
<text x="404.00" y="625.80" font-size="18.7" text-anchor="end" transform="rotate(-45 404.00 625.80)">T cells</text>
<text x="476.00" y="625.80" font-size="18.7" text-anchor="end" transform="rotate(-45 476.00 625.80)">B cells</text>
<text x="548.00" y="626.00" font-size="18.7" text-anchor="end" transform="rotate(-45 548.00 626.00)">myeloid cells</text>
<text x="302.9" y="496.05" font-size="22.35" text-anchor="middle" transform="rotate(-90 302.9 496.05)">frequency of hCD45<tspan font-size="16.5" dy="-10.2">+</tspan><tspan dy="10.2"> cells (%)</tspan></text>
<rect x="608.50" y="450.50" width="127.00" height="76.50" fill="none" stroke="#222" stroke-width="1.2" />
<rect x="628.20" y="465.60" width="29.10" height="9.80" fill="#0000ff" stroke="#000" stroke-width="4" />
<rect x="628.20" y="498.70" width="29.10" height="10.00" fill="#ff0000" stroke="#000" stroke-width="4" />
<text x="674.50" y="476.80" font-size="18.1" text-anchor="start" >blood</text>
<text x="674.50" y="509.70" font-size="18.1" text-anchor="start" >spleen</text>
<text x="151.05" y="747.50" font-size="23" text-anchor="start" >Teratoma Growth</text>
<rect x="151.00" y="750.10" width="176.20" height="1.90" fill="#000" stroke="none" stroke-width="0" />
<line x1="98.00" y1="780.30" x2="98.00" y2="989.00" stroke="#000" stroke-width="3" stroke-linecap="butt" />
<line x1="86.60" y1="987.50" x2="374.40" y2="987.50" stroke="#000" stroke-width="3" stroke-linecap="butt" />
<line x1="86.50" y1="987.50" x2="98.00" y2="987.50" stroke="#000" stroke-width="3" stroke-linecap="butt" />
<text x="82.00" y="996.00" font-size="19.3" text-anchor="end" >0</text>
<line x1="86.50" y1="935.70" x2="98.00" y2="935.70" stroke="#000" stroke-width="3" stroke-linecap="butt" />
<text x="82.00" y="944.20" font-size="19.3" text-anchor="end" >5</text>
<line x1="86.50" y1="883.90" x2="98.00" y2="883.90" stroke="#000" stroke-width="3" stroke-linecap="butt" />
<text x="82.00" y="892.40" font-size="19.3" text-anchor="end" >10</text>
<line x1="86.50" y1="832.10" x2="98.00" y2="832.10" stroke="#000" stroke-width="3" stroke-linecap="butt" />
<text x="82.00" y="840.60" font-size="19.3" text-anchor="end" >15</text>
<line x1="86.50" y1="780.30" x2="98.00" y2="780.30" stroke="#000" stroke-width="3" stroke-linecap="butt" />
<text x="82.00" y="788.80" font-size="19.3" text-anchor="end" >20</text>
<line x1="98.00" y1="987.50" x2="98.00" y2="998.30" stroke="#000" stroke-width="3" stroke-linecap="butt" />
<line x1="167.10" y1="987.50" x2="167.10" y2="998.30" stroke="#000" stroke-width="3" stroke-linecap="butt" />
<line x1="236.20" y1="987.50" x2="236.20" y2="998.30" stroke="#000" stroke-width="3" stroke-linecap="butt" />
<line x1="305.30" y1="987.50" x2="305.30" y2="998.30" stroke="#000" stroke-width="3" stroke-linecap="butt" />
<line x1="374.40" y1="987.50" x2="374.40" y2="998.30" stroke="#000" stroke-width="3" stroke-linecap="butt" />
<text x="101.40" y="1014.50" font-size="19.6" text-anchor="end" transform="rotate(-45 101.40 1014.50)">0</text>
<text x="170.50" y="1014.50" font-size="19.6" text-anchor="end" transform="rotate(-45 170.50 1014.50)">20</text>
<text x="239.60" y="1014.50" font-size="19.6" text-anchor="end" transform="rotate(-45 239.60 1014.50)">40</text>
<text x="308.70" y="1014.50" font-size="19.6" text-anchor="end" transform="rotate(-45 308.70 1014.50)">60</text>
<text x="377.80" y="1014.50" font-size="19.6" text-anchor="end" transform="rotate(-45 377.80 1014.50)">80</text>
<text x="239.95" y="1058.90" font-size="23" text-anchor="middle" >days post transplant</text>
<text x="39.60" y="884.80" font-size="22.35" text-anchor="middle" transform="rotate(-90 39.6 884.8)">diameter (mm)</text>
<line x1="167.20" y1="983.00" x2="167.20" y2="989.00" stroke="#ff6fcf" stroke-width="2.6" stroke-linecap="butt" />
<line x1="160.95" y1="983.00" x2="173.45" y2="983.00" stroke="#ff6fcf" stroke-width="2.6" stroke-linecap="butt" />
<line x1="160.95" y1="989.00" x2="173.45" y2="989.00" stroke="#ff6fcf" stroke-width="2.6" stroke-linecap="butt" />
<line x1="184.30" y1="975.00" x2="184.30" y2="987.00" stroke="#ff6fcf" stroke-width="2.6" stroke-linecap="butt" />
<line x1="178.05" y1="975.00" x2="190.55" y2="975.00" stroke="#ff6fcf" stroke-width="2.6" stroke-linecap="butt" />
<line x1="178.05" y1="987.00" x2="190.55" y2="987.00" stroke="#ff6fcf" stroke-width="2.6" stroke-linecap="butt" />
<line x1="194.60" y1="969.00" x2="194.60" y2="981.00" stroke="#ff6fcf" stroke-width="2.6" stroke-linecap="butt" />
<line x1="188.35" y1="969.00" x2="200.85" y2="969.00" stroke="#ff6fcf" stroke-width="2.6" stroke-linecap="butt" />
<line x1="188.35" y1="981.00" x2="200.85" y2="981.00" stroke="#ff6fcf" stroke-width="2.6" stroke-linecap="butt" />
<line x1="208.70" y1="963.00" x2="208.70" y2="973.00" stroke="#ff6fcf" stroke-width="2.6" stroke-linecap="butt" />
<line x1="202.45" y1="963.00" x2="214.95" y2="963.00" stroke="#ff6fcf" stroke-width="2.6" stroke-linecap="butt" />
<line x1="202.45" y1="973.00" x2="214.95" y2="973.00" stroke="#ff6fcf" stroke-width="2.6" stroke-linecap="butt" />
<line x1="222.70" y1="948.00" x2="222.70" y2="968.00" stroke="#ff6fcf" stroke-width="2.6" stroke-linecap="butt" />
<line x1="216.45" y1="948.00" x2="228.95" y2="948.00" stroke="#ff6fcf" stroke-width="2.6" stroke-linecap="butt" />
<line x1="216.45" y1="968.00" x2="228.95" y2="968.00" stroke="#ff6fcf" stroke-width="2.6" stroke-linecap="butt" />
<line x1="236.50" y1="943.00" x2="236.50" y2="963.00" stroke="#ff6fcf" stroke-width="2.6" stroke-linecap="butt" />
<line x1="230.25" y1="943.00" x2="242.75" y2="943.00" stroke="#ff6fcf" stroke-width="2.6" stroke-linecap="butt" />
<line x1="230.25" y1="963.00" x2="242.75" y2="963.00" stroke="#ff6fcf" stroke-width="2.6" stroke-linecap="butt" />
<line x1="246.90" y1="933.00" x2="246.90" y2="951.00" stroke="#ff6fcf" stroke-width="2.6" stroke-linecap="butt" />
<line x1="240.65" y1="933.00" x2="253.15" y2="933.00" stroke="#ff6fcf" stroke-width="2.6" stroke-linecap="butt" />
<line x1="240.65" y1="951.00" x2="253.15" y2="951.00" stroke="#ff6fcf" stroke-width="2.6" stroke-linecap="butt" />
<line x1="260.80" y1="927.10" x2="260.80" y2="954.30" stroke="#ff6fcf" stroke-width="2.6" stroke-linecap="butt" />
<line x1="254.55" y1="927.10" x2="267.05" y2="927.10" stroke="#ff6fcf" stroke-width="2.6" stroke-linecap="butt" />
<line x1="254.55" y1="954.30" x2="267.05" y2="954.30" stroke="#ff6fcf" stroke-width="2.6" stroke-linecap="butt" />
<line x1="271.30" y1="910.00" x2="271.30" y2="926.00" stroke="#ff6fcf" stroke-width="2.6" stroke-linecap="butt" />
<line x1="265.05" y1="910.00" x2="277.55" y2="910.00" stroke="#ff6fcf" stroke-width="2.6" stroke-linecap="butt" />
<line x1="265.05" y1="926.00" x2="277.55" y2="926.00" stroke="#ff6fcf" stroke-width="2.6" stroke-linecap="butt" />
<line x1="284.90" y1="904.00" x2="284.90" y2="920.00" stroke="#ff6fcf" stroke-width="2.6" stroke-linecap="butt" />
<line x1="278.65" y1="904.00" x2="291.15" y2="904.00" stroke="#ff6fcf" stroke-width="2.6" stroke-linecap="butt" />
<line x1="278.65" y1="920.00" x2="291.15" y2="920.00" stroke="#ff6fcf" stroke-width="2.6" stroke-linecap="butt" />
<line x1="295.10" y1="886.00" x2="295.10" y2="906.00" stroke="#ff6fcf" stroke-width="2.6" stroke-linecap="butt" />
<line x1="288.85" y1="886.00" x2="301.35" y2="886.00" stroke="#ff6fcf" stroke-width="2.6" stroke-linecap="butt" />
<line x1="288.85" y1="906.00" x2="301.35" y2="906.00" stroke="#ff6fcf" stroke-width="2.6" stroke-linecap="butt" />
<line x1="309.00" y1="871.00" x2="309.00" y2="889.00" stroke="#ff6fcf" stroke-width="2.6" stroke-linecap="butt" />
<line x1="302.75" y1="871.00" x2="315.25" y2="871.00" stroke="#ff6fcf" stroke-width="2.6" stroke-linecap="butt" />
<line x1="302.75" y1="889.00" x2="315.25" y2="889.00" stroke="#ff6fcf" stroke-width="2.6" stroke-linecap="butt" />
<line x1="316.50" y1="864.00" x2="316.50" y2="888.00" stroke="#ff6fcf" stroke-width="2.6" stroke-linecap="butt" />
<line x1="310.25" y1="864.00" x2="322.75" y2="864.00" stroke="#ff6fcf" stroke-width="2.6" stroke-linecap="butt" />
<line x1="310.25" y1="888.00" x2="322.75" y2="888.00" stroke="#ff6fcf" stroke-width="2.6" stroke-linecap="butt" />
<polyline points="167.2,986.0 184.3,981.0 194.6,975.0 208.7,968.0 222.7,958.0 236.5,953.0 246.9,942.0 260.8,940.7 271.3,918.0 284.9,912.0 295.1,896.0 309.0,880.0 316.5,876.0" fill="none" stroke="#ff6fcf" stroke-width="2.6" stroke-linejoin="round"/>
<path d="M167.2 980.4L172.8 986.0L167.2 991.6L161.6 986.0Z" fill="#ff66cc" stroke="#222" stroke-width="0.7"/>
<path d="M184.3 975.4L189.9 981.0L184.3 986.6L178.7 981.0Z" fill="#ff66cc" stroke="#222" stroke-width="0.7"/>
<path d="M194.6 969.4L200.2 975.0L194.6 980.6L189.0 975.0Z" fill="#ff66cc" stroke="#222" stroke-width="0.7"/>
<path d="M208.7 962.4L214.3 968.0L208.7 973.6L203.1 968.0Z" fill="#ff66cc" stroke="#222" stroke-width="0.7"/>
<path d="M222.7 952.4L228.3 958.0L222.7 963.6L217.1 958.0Z" fill="#ff66cc" stroke="#222" stroke-width="0.7"/>
<path d="M236.5 947.4L242.1 953.0L236.5 958.6L230.9 953.0Z" fill="#ff66cc" stroke="#222" stroke-width="0.7"/>
<path d="M246.9 936.4L252.5 942.0L246.9 947.6L241.3 942.0Z" fill="#ff66cc" stroke="#222" stroke-width="0.7"/>
<path d="M260.8 935.1L266.4 940.7L260.8 946.3L255.2 940.7Z" fill="#ff66cc" stroke="#222" stroke-width="0.7"/>
<path d="M271.3 912.4L276.9 918.0L271.3 923.6L265.7 918.0Z" fill="#ff66cc" stroke="#222" stroke-width="0.7"/>
<path d="M284.9 906.4L290.5 912.0L284.9 917.6L279.3 912.0Z" fill="#ff66cc" stroke="#222" stroke-width="0.7"/>
<path d="M295.1 890.4L300.7 896.0L295.1 901.6L289.5 896.0Z" fill="#ff66cc" stroke="#222" stroke-width="0.7"/>
<path d="M309.0 874.4L314.6 880.0L309.0 885.6L303.4 880.0Z" fill="#ff66cc" stroke="#222" stroke-width="0.7"/>
<path d="M316.5 870.4L322.1 876.0L316.5 881.6L310.9 876.0Z" fill="#ff66cc" stroke="#222" stroke-width="0.7"/>
<line x1="167.20" y1="984.30" x2="167.20" y2="990.30" stroke="#55c4f5" stroke-width="2.6" stroke-linecap="butt" />
<line x1="160.95" y1="984.30" x2="173.45" y2="984.30" stroke="#55c4f5" stroke-width="2.6" stroke-linecap="butt" />
<line x1="160.95" y1="990.30" x2="173.45" y2="990.30" stroke="#55c4f5" stroke-width="2.6" stroke-linecap="butt" />
<line x1="184.30" y1="984.30" x2="184.30" y2="990.30" stroke="#55c4f5" stroke-width="2.6" stroke-linecap="butt" />
<line x1="178.05" y1="984.30" x2="190.55" y2="984.30" stroke="#55c4f5" stroke-width="2.6" stroke-linecap="butt" />
<line x1="178.05" y1="990.30" x2="190.55" y2="990.30" stroke="#55c4f5" stroke-width="2.6" stroke-linecap="butt" />
<line x1="194.60" y1="977.20" x2="194.60" y2="985.20" stroke="#55c4f5" stroke-width="2.6" stroke-linecap="butt" />
<line x1="188.35" y1="977.20" x2="200.85" y2="977.20" stroke="#55c4f5" stroke-width="2.6" stroke-linecap="butt" />
<line x1="188.35" y1="985.20" x2="200.85" y2="985.20" stroke="#55c4f5" stroke-width="2.6" stroke-linecap="butt" />
<line x1="208.70" y1="953.90" x2="208.70" y2="965.90" stroke="#55c4f5" stroke-width="2.6" stroke-linecap="butt" />
<line x1="202.45" y1="953.90" x2="214.95" y2="953.90" stroke="#55c4f5" stroke-width="2.6" stroke-linecap="butt" />
<line x1="202.45" y1="965.90" x2="214.95" y2="965.90" stroke="#55c4f5" stroke-width="2.6" stroke-linecap="butt" />
<line x1="222.70" y1="943.70" x2="222.70" y2="962.70" stroke="#55c4f5" stroke-width="2.6" stroke-linecap="butt" />
<line x1="216.45" y1="943.70" x2="228.95" y2="943.70" stroke="#55c4f5" stroke-width="2.6" stroke-linecap="butt" />
<line x1="216.45" y1="962.70" x2="228.95" y2="962.70" stroke="#55c4f5" stroke-width="2.6" stroke-linecap="butt" />
<line x1="236.50" y1="949.00" x2="236.50" y2="967.00" stroke="#55c4f5" stroke-width="2.6" stroke-linecap="butt" />
<line x1="230.25" y1="949.00" x2="242.75" y2="949.00" stroke="#55c4f5" stroke-width="2.6" stroke-linecap="butt" />
<line x1="230.25" y1="967.00" x2="242.75" y2="967.00" stroke="#55c4f5" stroke-width="2.6" stroke-linecap="butt" />
<line x1="246.90" y1="940.00" x2="246.90" y2="954.00" stroke="#55c4f5" stroke-width="2.6" stroke-linecap="butt" />
<line x1="240.65" y1="940.00" x2="253.15" y2="940.00" stroke="#55c4f5" stroke-width="2.6" stroke-linecap="butt" />
<line x1="240.65" y1="954.00" x2="253.15" y2="954.00" stroke="#55c4f5" stroke-width="2.6" stroke-linecap="butt" />
<line x1="260.80" y1="923.00" x2="260.80" y2="939.00" stroke="#55c4f5" stroke-width="2.6" stroke-linecap="butt" />
<line x1="254.55" y1="923.00" x2="267.05" y2="923.00" stroke="#55c4f5" stroke-width="2.6" stroke-linecap="butt" />
<line x1="254.55" y1="939.00" x2="267.05" y2="939.00" stroke="#55c4f5" stroke-width="2.6" stroke-linecap="butt" />
<line x1="271.30" y1="913.00" x2="271.30" y2="929.00" stroke="#55c4f5" stroke-width="2.6" stroke-linecap="butt" />
<line x1="265.05" y1="913.00" x2="277.55" y2="913.00" stroke="#55c4f5" stroke-width="2.6" stroke-linecap="butt" />
<line x1="265.05" y1="929.00" x2="277.55" y2="929.00" stroke="#55c4f5" stroke-width="2.6" stroke-linecap="butt" />
<line x1="284.90" y1="896.50" x2="284.90" y2="914.50" stroke="#55c4f5" stroke-width="2.6" stroke-linecap="butt" />
<line x1="278.65" y1="896.50" x2="291.15" y2="896.50" stroke="#55c4f5" stroke-width="2.6" stroke-linecap="butt" />
<line x1="278.65" y1="914.50" x2="291.15" y2="914.50" stroke="#55c4f5" stroke-width="2.6" stroke-linecap="butt" />
<line x1="295.10" y1="875.00" x2="295.10" y2="903.60" stroke="#55c4f5" stroke-width="2.6" stroke-linecap="butt" />
<line x1="288.85" y1="875.00" x2="301.35" y2="875.00" stroke="#55c4f5" stroke-width="2.6" stroke-linecap="butt" />
<line x1="288.85" y1="903.60" x2="301.35" y2="903.60" stroke="#55c4f5" stroke-width="2.6" stroke-linecap="butt" />
<line x1="309.50" y1="857.00" x2="309.50" y2="875.00" stroke="#55c4f5" stroke-width="2.6" stroke-linecap="butt" />
<line x1="303.25" y1="857.00" x2="315.75" y2="857.00" stroke="#55c4f5" stroke-width="2.6" stroke-linecap="butt" />
<line x1="303.25" y1="875.00" x2="315.75" y2="875.00" stroke="#55c4f5" stroke-width="2.6" stroke-linecap="butt" />
<line x1="316.00" y1="851.00" x2="316.00" y2="869.00" stroke="#55c4f5" stroke-width="2.6" stroke-linecap="butt" />
<line x1="309.75" y1="851.00" x2="322.25" y2="851.00" stroke="#55c4f5" stroke-width="2.6" stroke-linecap="butt" />
<line x1="309.75" y1="869.00" x2="322.25" y2="869.00" stroke="#55c4f5" stroke-width="2.6" stroke-linecap="butt" />
<polyline points="167.2,987.3 184.3,987.3 194.6,981.2 208.7,959.9 222.7,953.2 236.5,958.0 246.9,947.0 260.8,931.0 271.3,921.0 284.9,905.5 295.1,889.3 309.5,866.0 316.0,860.0" fill="none" stroke="#55c4f5" stroke-width="2.6" stroke-linejoin="round"/>
<rect x="161.6" y="981.7" width="11.2" height="11.2" fill="#66ccff" stroke="#222" stroke-width="0.7"/>
<rect x="178.7" y="981.7" width="11.2" height="11.2" fill="#66ccff" stroke="#222" stroke-width="0.7"/>
<rect x="189.0" y="975.6" width="11.2" height="11.2" fill="#66ccff" stroke="#222" stroke-width="0.7"/>
<rect x="203.1" y="954.3" width="11.2" height="11.2" fill="#66ccff" stroke="#222" stroke-width="0.7"/>
<rect x="217.1" y="947.6" width="11.2" height="11.2" fill="#66ccff" stroke="#222" stroke-width="0.7"/>
<rect x="230.9" y="952.4" width="11.2" height="11.2" fill="#66ccff" stroke="#222" stroke-width="0.7"/>
<rect x="241.3" y="941.4" width="11.2" height="11.2" fill="#66ccff" stroke="#222" stroke-width="0.7"/>
<rect x="255.2" y="925.4" width="11.2" height="11.2" fill="#66ccff" stroke="#222" stroke-width="0.7"/>
<rect x="265.7" y="915.4" width="11.2" height="11.2" fill="#66ccff" stroke="#222" stroke-width="0.7"/>
<rect x="279.3" y="899.9" width="11.2" height="11.2" fill="#66ccff" stroke="#222" stroke-width="0.7"/>
<rect x="289.5" y="883.7" width="11.2" height="11.2" fill="#66ccff" stroke="#222" stroke-width="0.7"/>
<rect x="303.9" y="860.4" width="11.2" height="11.2" fill="#66ccff" stroke="#222" stroke-width="0.7"/>
<rect x="310.4" y="854.4" width="11.2" height="11.2" fill="#66ccff" stroke="#222" stroke-width="0.7"/>
<line x1="167.20" y1="973.00" x2="167.20" y2="981.00" stroke="#ff0000" stroke-width="2.6" stroke-linecap="butt" />
<line x1="160.95" y1="973.00" x2="173.45" y2="973.00" stroke="#ff0000" stroke-width="2.6" stroke-linecap="butt" />
<line x1="160.95" y1="981.00" x2="173.45" y2="981.00" stroke="#ff0000" stroke-width="2.6" stroke-linecap="butt" />
<line x1="184.30" y1="960.50" x2="184.30" y2="972.50" stroke="#ff0000" stroke-width="2.6" stroke-linecap="butt" />
<line x1="178.05" y1="960.50" x2="190.55" y2="960.50" stroke="#ff0000" stroke-width="2.6" stroke-linecap="butt" />
<line x1="178.05" y1="972.50" x2="190.55" y2="972.50" stroke="#ff0000" stroke-width="2.6" stroke-linecap="butt" />
<line x1="194.60" y1="962.50" x2="194.60" y2="980.50" stroke="#ff0000" stroke-width="2.6" stroke-linecap="butt" />
<line x1="188.35" y1="962.50" x2="200.85" y2="962.50" stroke="#ff0000" stroke-width="2.6" stroke-linecap="butt" />
<line x1="188.35" y1="980.50" x2="200.85" y2="980.50" stroke="#ff0000" stroke-width="2.6" stroke-linecap="butt" />
<line x1="208.70" y1="959.60" x2="208.70" y2="973.60" stroke="#ff0000" stroke-width="2.6" stroke-linecap="butt" />
<line x1="202.45" y1="959.60" x2="214.95" y2="959.60" stroke="#ff0000" stroke-width="2.6" stroke-linecap="butt" />
<line x1="202.45" y1="973.60" x2="214.95" y2="973.60" stroke="#ff0000" stroke-width="2.6" stroke-linecap="butt" />
<line x1="222.70" y1="949.00" x2="222.70" y2="977.00" stroke="#ff0000" stroke-width="2.6" stroke-linecap="butt" />
<line x1="216.45" y1="949.00" x2="228.95" y2="949.00" stroke="#ff0000" stroke-width="2.6" stroke-linecap="butt" />
<line x1="216.45" y1="977.00" x2="228.95" y2="977.00" stroke="#ff0000" stroke-width="2.6" stroke-linecap="butt" />
<line x1="236.50" y1="945.80" x2="236.50" y2="961.80" stroke="#ff0000" stroke-width="2.6" stroke-linecap="butt" />
<line x1="230.25" y1="945.80" x2="242.75" y2="945.80" stroke="#ff0000" stroke-width="2.6" stroke-linecap="butt" />
<line x1="230.25" y1="961.80" x2="242.75" y2="961.80" stroke="#ff0000" stroke-width="2.6" stroke-linecap="butt" />
<line x1="246.90" y1="927.20" x2="246.90" y2="942.20" stroke="#ff0000" stroke-width="2.6" stroke-linecap="butt" />
<line x1="240.65" y1="927.20" x2="253.15" y2="927.20" stroke="#ff0000" stroke-width="2.6" stroke-linecap="butt" />
<line x1="240.65" y1="942.20" x2="253.15" y2="942.20" stroke="#ff0000" stroke-width="2.6" stroke-linecap="butt" />
<line x1="260.80" y1="924.00" x2="260.80" y2="940.00" stroke="#ff0000" stroke-width="2.6" stroke-linecap="butt" />
<line x1="254.55" y1="924.00" x2="267.05" y2="924.00" stroke="#ff0000" stroke-width="2.6" stroke-linecap="butt" />
<line x1="254.55" y1="940.00" x2="267.05" y2="940.00" stroke="#ff0000" stroke-width="2.6" stroke-linecap="butt" />
<line x1="271.30" y1="899.50" x2="271.30" y2="922.30" stroke="#ff0000" stroke-width="2.6" stroke-linecap="butt" />
<line x1="265.05" y1="899.50" x2="277.55" y2="899.50" stroke="#ff0000" stroke-width="2.6" stroke-linecap="butt" />
<line x1="265.05" y1="922.30" x2="277.55" y2="922.30" stroke="#ff0000" stroke-width="2.6" stroke-linecap="butt" />
<line x1="284.90" y1="899.00" x2="284.90" y2="915.00" stroke="#ff0000" stroke-width="2.6" stroke-linecap="butt" />
<line x1="278.65" y1="899.00" x2="291.15" y2="899.00" stroke="#ff0000" stroke-width="2.6" stroke-linecap="butt" />
<line x1="278.65" y1="915.00" x2="291.15" y2="915.00" stroke="#ff0000" stroke-width="2.6" stroke-linecap="butt" />
<line x1="295.70" y1="896.40" x2="295.70" y2="912.40" stroke="#ff0000" stroke-width="2.6" stroke-linecap="butt" />
<line x1="289.45" y1="896.40" x2="301.95" y2="896.40" stroke="#ff0000" stroke-width="2.6" stroke-linecap="butt" />
<line x1="289.45" y1="912.40" x2="301.95" y2="912.40" stroke="#ff0000" stroke-width="2.6" stroke-linecap="butt" />
<line x1="309.10" y1="860.80" x2="309.10" y2="881.60" stroke="#ff0000" stroke-width="2.6" stroke-linecap="butt" />
<line x1="302.85" y1="860.80" x2="315.35" y2="860.80" stroke="#ff0000" stroke-width="2.6" stroke-linecap="butt" />
<line x1="302.85" y1="881.60" x2="315.35" y2="881.60" stroke="#ff0000" stroke-width="2.6" stroke-linecap="butt" />
<line x1="315.40" y1="834.60" x2="315.40" y2="870.80" stroke="#ff0000" stroke-width="2.6" stroke-linecap="butt" />
<line x1="309.15" y1="834.60" x2="321.65" y2="834.60" stroke="#ff0000" stroke-width="2.6" stroke-linecap="butt" />
<line x1="309.15" y1="870.80" x2="321.65" y2="870.80" stroke="#ff0000" stroke-width="2.6" stroke-linecap="butt" />
<polyline points="167.2,977.0 184.3,966.5 194.6,971.5 208.7,966.6 222.7,963.0 236.5,953.8 246.9,934.7 260.8,932.0 271.3,910.9 284.9,907.0 295.7,904.4 309.1,871.2 315.4,852.7" fill="none" stroke="#ff0000" stroke-width="3" stroke-linejoin="round"/>
<path d="M167.2 970.2L173.6 981.8L160.8 981.8Z" fill="#ff0000" stroke="#111" stroke-width="0.7"/>
<path d="M184.3 959.7L190.7 971.3L177.9 971.3Z" fill="#ff0000" stroke="#111" stroke-width="0.7"/>
<path d="M194.6 964.7L201.0 976.3L188.2 976.3Z" fill="#ff0000" stroke="#111" stroke-width="0.7"/>
<path d="M208.7 959.8L215.1 971.4L202.3 971.4Z" fill="#ff0000" stroke="#111" stroke-width="0.7"/>
<path d="M222.7 956.2L229.1 967.8L216.3 967.8Z" fill="#ff0000" stroke="#111" stroke-width="0.7"/>
<path d="M236.5 947.0L242.9 958.6L230.1 958.6Z" fill="#ff0000" stroke="#111" stroke-width="0.7"/>
<path d="M246.9 927.9L253.3 939.5L240.5 939.5Z" fill="#ff0000" stroke="#111" stroke-width="0.7"/>
<path d="M260.8 925.2L267.2 936.8L254.4 936.8Z" fill="#ff0000" stroke="#111" stroke-width="0.7"/>
<path d="M271.3 904.1L277.7 915.7L264.9 915.7Z" fill="#ff0000" stroke="#111" stroke-width="0.7"/>
<path d="M284.9 900.2L291.3 911.8L278.5 911.8Z" fill="#ff0000" stroke="#111" stroke-width="0.7"/>
<path d="M295.7 897.6L302.1 909.2L289.3 909.2Z" fill="#ff0000" stroke="#111" stroke-width="0.7"/>
<path d="M309.1 864.4L315.5 876.0L302.7 876.0Z" fill="#ff0000" stroke="#111" stroke-width="0.7"/>
<path d="M315.4 845.9L321.8 857.5L309.0 857.5Z" fill="#ff0000" stroke="#111" stroke-width="0.7"/>
<line x1="167.20" y1="970.00" x2="167.20" y2="973.00" stroke="#0000ff" stroke-width="2.6" stroke-linecap="butt" />
<line x1="160.95" y1="970.00" x2="173.45" y2="970.00" stroke="#0000ff" stroke-width="2.6" stroke-linecap="butt" />
<line x1="160.95" y1="973.00" x2="173.45" y2="973.00" stroke="#0000ff" stroke-width="2.6" stroke-linecap="butt" />
<line x1="170.90" y1="971.80" x2="170.90" y2="974.80" stroke="#0000ff" stroke-width="2.6" stroke-linecap="butt" />
<line x1="164.65" y1="971.80" x2="177.15" y2="971.80" stroke="#0000ff" stroke-width="2.6" stroke-linecap="butt" />
<line x1="164.65" y1="974.80" x2="177.15" y2="974.80" stroke="#0000ff" stroke-width="2.6" stroke-linecap="butt" />
<line x1="184.60" y1="951.30" x2="184.60" y2="966.10" stroke="#0000ff" stroke-width="2.6" stroke-linecap="butt" />
<line x1="178.35" y1="951.30" x2="190.85" y2="951.30" stroke="#0000ff" stroke-width="2.6" stroke-linecap="butt" />
<line x1="178.35" y1="966.10" x2="190.85" y2="966.10" stroke="#0000ff" stroke-width="2.6" stroke-linecap="butt" />
<line x1="208.70" y1="945.40" x2="208.70" y2="964.60" stroke="#0000ff" stroke-width="2.6" stroke-linecap="butt" />
<line x1="202.45" y1="945.40" x2="214.95" y2="945.40" stroke="#0000ff" stroke-width="2.6" stroke-linecap="butt" />
<line x1="202.45" y1="964.60" x2="214.95" y2="964.60" stroke="#0000ff" stroke-width="2.6" stroke-linecap="butt" />
<line x1="222.70" y1="961.80" x2="222.70" y2="967.80" stroke="#0000ff" stroke-width="2.6" stroke-linecap="butt" />
<line x1="216.45" y1="961.80" x2="228.95" y2="961.80" stroke="#0000ff" stroke-width="2.6" stroke-linecap="butt" />
<line x1="216.45" y1="967.80" x2="228.95" y2="967.80" stroke="#0000ff" stroke-width="2.6" stroke-linecap="butt" />
<line x1="236.60" y1="940.80" x2="236.60" y2="956.80" stroke="#0000ff" stroke-width="2.6" stroke-linecap="butt" />
<line x1="230.35" y1="940.80" x2="242.85" y2="940.80" stroke="#0000ff" stroke-width="2.6" stroke-linecap="butt" />
<line x1="230.35" y1="956.80" x2="242.85" y2="956.80" stroke="#0000ff" stroke-width="2.6" stroke-linecap="butt" />
<line x1="246.90" y1="943.50" x2="246.90" y2="959.50" stroke="#0000ff" stroke-width="2.6" stroke-linecap="butt" />
<line x1="240.65" y1="943.50" x2="253.15" y2="943.50" stroke="#0000ff" stroke-width="2.6" stroke-linecap="butt" />
<line x1="240.65" y1="959.50" x2="253.15" y2="959.50" stroke="#0000ff" stroke-width="2.6" stroke-linecap="butt" />
<line x1="260.80" y1="918.70" x2="260.80" y2="936.70" stroke="#0000ff" stroke-width="2.6" stroke-linecap="butt" />
<line x1="254.55" y1="918.70" x2="267.05" y2="918.70" stroke="#0000ff" stroke-width="2.6" stroke-linecap="butt" />
<line x1="254.55" y1="936.70" x2="267.05" y2="936.70" stroke="#0000ff" stroke-width="2.6" stroke-linecap="butt" />
<line x1="271.60" y1="916.30" x2="271.60" y2="933.10" stroke="#0000ff" stroke-width="2.6" stroke-linecap="butt" />
<line x1="265.35" y1="916.30" x2="277.85" y2="916.30" stroke="#0000ff" stroke-width="2.6" stroke-linecap="butt" />
<line x1="265.35" y1="933.10" x2="277.85" y2="933.10" stroke="#0000ff" stroke-width="2.6" stroke-linecap="butt" />
<line x1="284.90" y1="911.00" x2="284.90" y2="930.40" stroke="#0000ff" stroke-width="2.6" stroke-linecap="butt" />
<line x1="278.65" y1="911.00" x2="291.15" y2="911.00" stroke="#0000ff" stroke-width="2.6" stroke-linecap="butt" />
<line x1="278.65" y1="930.40" x2="291.15" y2="930.40" stroke="#0000ff" stroke-width="2.6" stroke-linecap="butt" />
<line x1="295.60" y1="903.20" x2="295.60" y2="919.20" stroke="#0000ff" stroke-width="2.6" stroke-linecap="butt" />
<line x1="289.35" y1="903.20" x2="301.85" y2="903.20" stroke="#0000ff" stroke-width="2.6" stroke-linecap="butt" />
<line x1="289.35" y1="919.20" x2="301.85" y2="919.20" stroke="#0000ff" stroke-width="2.6" stroke-linecap="butt" />
<line x1="309.20" y1="875.20" x2="309.20" y2="908.80" stroke="#0000ff" stroke-width="2.6" stroke-linecap="butt" />
<line x1="302.95" y1="875.20" x2="315.45" y2="875.20" stroke="#0000ff" stroke-width="2.6" stroke-linecap="butt" />
<line x1="302.95" y1="908.80" x2="315.45" y2="908.80" stroke="#0000ff" stroke-width="2.6" stroke-linecap="butt" />
<line x1="316.30" y1="867.60" x2="316.30" y2="886.20" stroke="#0000ff" stroke-width="2.6" stroke-linecap="butt" />
<line x1="310.05" y1="867.60" x2="322.55" y2="867.60" stroke="#0000ff" stroke-width="2.6" stroke-linecap="butt" />
<line x1="310.05" y1="886.20" x2="322.55" y2="886.20" stroke="#0000ff" stroke-width="2.6" stroke-linecap="butt" />
<line x1="322.90" y1="841.30" x2="322.90" y2="863.90" stroke="#0000ff" stroke-width="2.6" stroke-linecap="butt" />
<line x1="316.65" y1="841.30" x2="329.15" y2="841.30" stroke="#0000ff" stroke-width="2.6" stroke-linecap="butt" />
<line x1="316.65" y1="863.90" x2="329.15" y2="863.90" stroke="#0000ff" stroke-width="2.6" stroke-linecap="butt" />
<polyline points="167.2,971.5 170.9,973.3 184.6,958.7 208.7,955.0 222.7,964.8 236.6,948.8 246.9,951.5 260.8,927.7 271.6,924.7 284.9,920.7 295.6,911.2 309.2,892.0 316.3,876.9 322.9,852.6" fill="none" stroke="#0000ff" stroke-width="3" stroke-linejoin="round"/>
<circle cx="167.2" cy="971.5" r="5.8" fill="#0000ff" stroke="#111" stroke-width="0.7"/>
<circle cx="170.9" cy="973.3" r="5.8" fill="#0000ff" stroke="#111" stroke-width="0.7"/>
<circle cx="184.6" cy="958.7" r="5.8" fill="#0000ff" stroke="#111" stroke-width="0.7"/>
<circle cx="208.7" cy="955.0" r="5.8" fill="#0000ff" stroke="#111" stroke-width="0.7"/>
<circle cx="222.7" cy="964.8" r="5.8" fill="#0000ff" stroke="#111" stroke-width="0.7"/>
<circle cx="236.6" cy="948.8" r="5.8" fill="#0000ff" stroke="#111" stroke-width="0.7"/>
<circle cx="246.9" cy="951.5" r="5.8" fill="#0000ff" stroke="#111" stroke-width="0.7"/>
<circle cx="260.8" cy="927.7" r="5.8" fill="#0000ff" stroke="#111" stroke-width="0.7"/>
<circle cx="271.6" cy="924.7" r="5.8" fill="#0000ff" stroke="#111" stroke-width="0.7"/>
<circle cx="284.9" cy="920.7" r="5.8" fill="#0000ff" stroke="#111" stroke-width="0.7"/>
<circle cx="295.6" cy="911.2" r="5.8" fill="#0000ff" stroke="#111" stroke-width="0.7"/>
<circle cx="309.2" cy="892.0" r="5.8" fill="#0000ff" stroke="#111" stroke-width="0.7"/>
<circle cx="316.3" cy="876.9" r="5.8" fill="#0000ff" stroke="#111" stroke-width="0.7"/>
<circle cx="322.9" cy="852.6" r="5.8" fill="#0000ff" stroke="#111" stroke-width="0.7"/>
<rect x="413.90" y="820.00" width="294.00" height="127.50" fill="none" stroke="#222" stroke-width="1.2" />
<line x1="424.20" y1="831.60" x2="453.60" y2="831.60" stroke="#0000ff" stroke-width="3" stroke-linecap="round" />
<circle cx="439.0" cy="831.6" r="5.7" fill="#0000ff" stroke="#111" stroke-width="0.7"/>
<text x="471.30" y="840.40" font-size="19.1" text-anchor="start" >H1 in NSG-W41</text>
<line x1="424.20" y1="865.00" x2="453.60" y2="865.00" stroke="#ff0000" stroke-width="3" stroke-linecap="round" />
<path d="M439.4 858.7L444.9 870.3L433.9 870.3Z" fill="#ff0000" stroke="#111" stroke-width="0.7"/>
<text x="471.30" y="873.80" font-size="19.1" text-anchor="start" >HLA-I/II-KO in NSG-W41</text>
<line x1="424.20" y1="897.70" x2="453.60" y2="897.70" stroke="#55c4f5" stroke-width="2.6" stroke-linecap="round" />
<rect x="433.9" y="893.3" width="11.2" height="11.2" fill="#66ccff" stroke="#222" stroke-width="0.7"/>
<text x="471.30" y="906.50" font-size="19.1" text-anchor="start" >H1 in huNSG-W41</text>
<line x1="424.20" y1="930.50" x2="453.60" y2="930.50" stroke="#ff6fcf" stroke-width="2.6" stroke-linecap="round" />
<path d="M439.3 925.0L444.8 930.5L439.3 936.0L433.8 930.5Z" fill="#ff66cc" stroke="#222" stroke-width="0.7"/>
<text x="471.30" y="939.30" font-size="19.1" text-anchor="start" >HLA-I/II-KO in huNSG-W41</text></svg></body></html>
